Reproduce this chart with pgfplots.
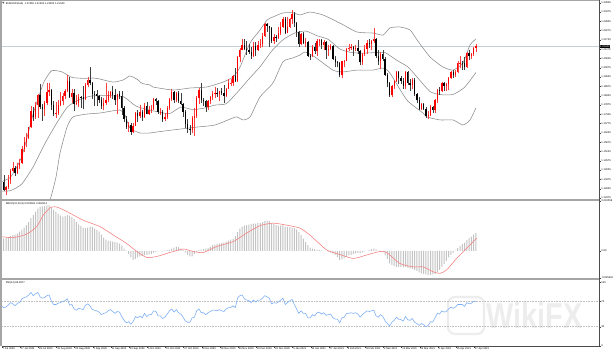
\documentclass[border=0pt]{standalone}
\usepackage{fontspec}
\setmainfont{Liberation Sans}
\usepackage{pgfplots}
\usepackage{pgfplotstable}
\pgfplotsset{compat=1.18}
\definecolor{bandgray}{RGB}{140,140,140}
\definecolor{macdgray}{RGB}{195,195,195}
\definecolor{sigred}{RGB}{245,125,125}
\definecolor{rsiblue}{RGB}{120,172,245}
\definecolor{pricegray}{RGB}{200,206,216}
\definecolor{framegray}{RGB}{165,165,165}
\newcommand{\tf}{\fontsize{2.6bp}{3bp}\selectfont}

\pgfplotstableread{
i o h l c
4 1.1310 1.1330 1.1260 1.1274
5 1.1274 1.1345 1.1262 1.1330
6 1.1330 1.1371 1.1278 1.1287
7 1.1287 1.1308 1.1255 1.1300
8 1.1300 1.1375 1.1290 1.1343
9 1.1343 1.1406 1.1320 1.1399
10 1.1399 1.1452 1.1393 1.1412
11 1.1412 1.1428 1.1370 1.1383
12 1.1383 1.1445 1.1378 1.1427
13 1.1427 1.1468 1.1410 1.1443
14 1.1443 1.1546 1.1440 1.1530
15 1.1530 1.1600 1.1510 1.1570
16 1.1570 1.1623 1.1540 1.1595
17 1.1595 1.1660 1.1586 1.1655
18 1.1655 1.1780 1.1650 1.1754
19 1.1754 1.1776 1.1690 1.1717
20 1.1717 1.1805 1.1705 1.1790
21 1.1790 1.1850 1.1712 1.1845
22 1.1845 1.1909 1.1762 1.1778
23 1.1778 1.1795 1.1695 1.1762
24 1.1762 1.1810 1.1725 1.1800
25 1.1800 1.1917 1.1790 1.1865
26 1.1865 1.1916 1.1840 1.1875
27 1.1875 1.1885 1.1755 1.1787
28 1.1787 1.1810 1.1720 1.1735
29 1.1735 1.1805 1.1711 1.1740
30 1.1740 1.1815 1.1730 1.1785
31 1.1785 1.1865 1.1780 1.1812
32 1.1812 1.1860 1.1785 1.1842
33 1.1842 1.1885 1.1820 1.1870
34 1.1870 1.1966 1.1862 1.1930
35 1.1930 1.1952 1.1830 1.1837
36 1.1837 1.1880 1.1800 1.1860
37 1.1860 1.1882 1.1753 1.1795
38 1.1795 1.1845 1.1785 1.1798
39 1.1798 1.1850 1.1778 1.1834
40 1.1834 1.1840 1.1772 1.1832
41 1.1832 1.1900 1.1762 1.1820
42 1.1820 1.1915 1.1815 1.1905
43 1.1905 1.1955 1.1893 1.1935
44 1.1935 1.2011 1.1903 1.1915
45 1.1915 1.1925 1.1820 1.1855
46 1.1855 1.1870 1.1780 1.1850
47 1.1850 1.1875 1.1780 1.1838
48 1.1838 1.1848 1.1802 1.1815
49 1.1815 1.1835 1.1765 1.1780
50 1.1780 1.1830 1.1755 1.1800
51 1.1800 1.1917 1.1788 1.1815
52 1.1815 1.1872 1.1808 1.1845
53 1.1845 1.1870 1.1831 1.1865
54 1.1865 1.1900 1.1822 1.1845
55 1.1845 1.1883 1.1790 1.1815
56 1.1815 1.1852 1.1737 1.1850
57 1.1850 1.1872 1.1822 1.1840
58 1.1840 1.1870 1.1728 1.1770
59 1.1770 1.1780 1.1685 1.1705
60 1.1705 1.1720 1.1645 1.1660
61 1.1660 1.1687 1.1627 1.1670
62 1.1670 1.1680 1.1612 1.1630
63 1.1630 1.1683 1.1622 1.1665
64 1.1665 1.1745 1.1661 1.1740
65 1.1740 1.1755 1.1685 1.1720
66 1.1720 1.1790 1.1713 1.1745
67 1.1745 1.1760 1.1695 1.1715
68 1.1715 1.1800 1.1710 1.1780
69 1.1780 1.1808 1.1732 1.1735
70 1.1735 1.1780 1.1730 1.1760
71 1.1760 1.1790 1.1738 1.1762
72 1.1762 1.1831 1.1755 1.1825
73 1.1825 1.1830 1.1790 1.1812
74 1.1812 1.1818 1.1735 1.1745
75 1.1745 1.1770 1.1728 1.1748
76 1.1748 1.1760 1.1688 1.1705
77 1.1705 1.1740 1.1690 1.1718
78 1.1718 1.1780 1.1705 1.1768
79 1.1768 1.1830 1.1760 1.1820
80 1.1820 1.1880 1.1810 1.1862
81 1.1862 1.1870 1.1800 1.1815
82 1.1815 1.1866 1.1803 1.1860
83 1.1860 1.1870 1.1800 1.1812
84 1.1812 1.1860 1.1785 1.1795
85 1.1795 1.1800 1.1718 1.1745
86 1.1745 1.1760 1.1650 1.1675
87 1.1675 1.1705 1.1622 1.1646
88 1.1646 1.1670 1.1612 1.1640
89 1.1640 1.1720 1.1620 1.1710
90 1.1710 1.1770 1.1603 1.1720
91 1.1720 1.1838 1.1710 1.1830
92 1.1830 1.1890 1.1795 1.1875
93 1.1875 1.1920 1.1800 1.1815
94 1.1815 1.1830 1.1780 1.1812
95 1.1812 1.1815 1.1745 1.1777
96 1.1777 1.1815 1.1758 1.1810
97 1.1810 1.1840 1.1793 1.1833
98 1.1833 1.1870 1.1815 1.1855
99 1.1855 1.1893 1.1830 1.1858
100 1.1858 1.1890 1.1835 1.1850
101 1.1850 1.1873 1.1812 1.1870
102 1.1870 1.1890 1.1846 1.1857
103 1.1857 1.1905 1.1800 1.1840
104 1.1840 1.1890 1.1836 1.1885
105 1.1885 1.1940 1.1880 1.1915
106 1.1915 1.1940 1.1897 1.1918
107 1.1918 1.1965 1.1900 1.1960
108 1.1960 1.2004 1.1923 1.1928
109 1.1928 1.2077 1.1925 1.2070
110 1.2070 1.2125 1.2040 1.2115
111 1.2115 1.2176 1.2110 1.2145
112 1.2145 1.2178 1.2110 1.2120
113 1.2120 1.2168 1.2085 1.2110
114 1.2110 1.2150 1.2090 1.2100
115 1.2100 1.2130 1.2058 1.2080
116 1.2080 1.2162 1.2070 1.2135
117 1.2135 1.2160 1.2080 1.2110
118 1.2110 1.2163 1.2105 1.2145
119 1.2145 1.2175 1.2125 1.2150
120 1.2150 1.2212 1.2130 1.2195
121 1.2195 1.2273 1.2192 1.2265
122 1.2265 1.2270 1.2220 1.2255
123 1.2255 1.2257 1.2130 1.2240
124 1.2240 1.2250 1.2157 1.2165
125 1.2165 1.2210 1.2150 1.2190
126 1.2190 1.2200 1.2160 1.2185
127 1.2185 1.2250 1.2180 1.2215
128 1.2215 1.2276 1.2200 1.2250
129 1.2250 1.2310 1.2240 1.2295
130 1.2295 1.2310 1.2210 1.2215
131 1.2215 1.2310 1.2212 1.2250
132 1.2250 1.2300 1.2245 1.2298
133 1.2298 1.2349 1.2265 1.2325
134 1.2325 1.2338 1.2250 1.2270
135 1.2270 1.2280 1.2190 1.2220
136 1.2220 1.2225 1.2132 1.2150
137 1.2150 1.2215 1.2140 1.2207
138 1.2207 1.2222 1.2150 1.2155
139 1.2155 1.2185 1.2130 1.2158
140 1.2158 1.2165 1.2070 1.2080
141 1.2080 1.2090 1.2054 1.2075
142 1.2075 1.2145 1.2070 1.2130
143 1.2130 1.2155 1.2090 1.2105
144 1.2105 1.2175 1.2077 1.2165
145 1.2165 1.2180 1.2135 1.2170
146 1.2170 1.2175 1.2117 1.2140
147 1.2140 1.2170 1.2115 1.2160
148 1.2160 1.2165 1.2060 1.2110
149 1.2110 1.2140 1.2080 1.2120
150 1.2120 1.2150 1.2115 1.2135
151 1.2135 1.2145 1.2055 1.2060
152 1.2060 1.2075 1.2010 1.2040
153 1.2040 1.2045 1.2010 1.2035
154 1.2035 1.2040 1.1952 1.1965
155 1.1965 1.2050 1.1950 1.2045
156 1.2045 1.2055 1.2010 1.2050
157 1.2050 1.2125 1.2045 1.2120
158 1.2120 1.2150 1.2105 1.2122
159 1.2122 1.2150 1.2110 1.2130
160 1.2130 1.2135 1.2080 1.2120
161 1.2120 1.2145 1.2105 1.2125
162 1.2125 1.2170 1.2090 1.2105
163 1.2105 1.2110 1.2022 1.2040
164 1.2040 1.2095 1.2025 1.2090
165 1.2090 1.2145 1.2080 1.2120
166 1.2120 1.2170 1.2090 1.2155
167 1.2155 1.2180 1.2125 1.2150
168 1.2150 1.2170 1.2110 1.2165
169 1.2165 1.2243 1.2155 1.2175
170 1.2175 1.2185 1.2065 1.2075
171 1.2075 1.2115 1.2025 1.2045
172 1.2045 1.2100 1.2000 1.2090
173 1.2090 1.2110 1.2045 1.2060
174 1.2060 1.2070 1.1960 1.1965
175 1.1965 1.1975 1.1893 1.1915
176 1.1915 1.1925 1.1835 1.1845
177 1.1845 1.1907 1.1835 1.1900
178 1.1900 1.1935 1.1880 1.1930
179 1.1930 1.1990 1.1925 1.1985
180 1.1985 1.1990 1.1910 1.1950
181 1.1950 1.1960 1.1910 1.1930
182 1.1930 1.1950 1.1885 1.1900
183 1.1900 1.1990 1.1880 1.1980
184 1.1980 1.1990 1.1905 1.1915
185 1.1915 1.1940 1.1873 1.1905
186 1.1905 1.1945 1.1880 1.1935
187 1.1935 1.1945 1.1840 1.1850
188 1.1850 1.1860 1.1800 1.1815
189 1.1815 1.1835 1.1760 1.1765
190 1.1765 1.1800 1.1760 1.1795
191 1.1795 1.1800 1.1755 1.1765
192 1.1765 1.1775 1.1712 1.1720
193 1.1720 1.1750 1.1704 1.1730
194 1.1730 1.1790 1.1720 1.1775
195 1.1775 1.1782 1.1740 1.1760
196 1.1760 1.1825 1.1740 1.1815
197 1.1815 1.1880 1.1800 1.1875
198 1.1875 1.1895 1.1845 1.1870
199 1.1870 1.1925 1.1865 1.1915
200 1.1915 1.1925 1.1870 1.1900
201 1.1900 1.1920 1.1870 1.1910
202 1.1910 1.1955 1.1875 1.1950
203 1.1950 1.1990 1.1940 1.1980
204 1.1980 1.1995 1.1945 1.1965
205 1.1965 1.1995 1.1955 1.1985
206 1.1985 1.2050 1.1975 1.2035
207 1.2035 1.2080 1.2005 1.2038
208 1.2038 1.2050 1.1995 1.2033
209 1.2033 1.2070 1.1995 1.2015
210 1.2015 1.2100 1.2005 1.2095
211 1.2095 1.2115 1.2055 1.2080
212 1.2080 1.2095 1.2060 1.2090
213 1.2090 1.2130 1.2075 1.2125
214 1.2125 1.2150 1.2100 1.2134
}\ohlc

\pgfplotstableread{
i v
4 1.1330
9 1.1361
14 1.1485
19 1.1737
22.7 1.1888
24 1.1932
27.1 1.1990
31.5 1.1984
36.0 1.1951
41.0 1.1945
45.3 1.1947
48.4 1.1941
54.1 1.1923
58.5 1.1935
61.6 1.1959
64.7 1.1940
67.0 1.1915
70.4 1.1906
71.7 1.1894
80.6 1.1876
88.1 1.1888
95.5 1.1894
102.6 1.1923
107.0 1.1953
110.1 1.2012
114.5 1.2154
118.9 1.2231
122.0 1.2290
124.6 1.2308
129.0 1.2332
133.4 1.2333
136.5 1.2320
140.9 1.2337
146.6 1.2320
154.1 1.2272
161.6 1.2219
168.7 1.2213
173.1 1.2201
176.1 1.2243
180.5 1.2249
185.0 1.2231
188.1 1.2172
193.8 1.2071
199.5 1.2012
203.9 1.1994
208.3 1.2036
211.4 1.2142
214 1.2178
}\bbup

\pgfplotstableread{
i v
4 1.1278
9 1.1281
14 1.1321
19 1.1423
24 1.1556
29 1.1673
34 1.1775
39 1.1817
44 1.1839
49 1.1845
54 1.1842
59 1.1835
64 1.1783
69 1.1761
74 1.1747
79 1.1736
84 1.1775
89 1.1761
94 1.1768
99 1.1787
104 1.1795
109 1.1864
114 1.1941
119 1.2015
124 1.2106
129 1.2173
134 1.2212
139 1.2225
144 1.2197
149 1.2175
154 1.2119
159 1.2098
164 1.2094
169 1.2097
174 1.2097
179 1.2053
184 1.2013
189 1.1938
194 1.1865
199 1.1848
204 1.1850
209 1.1892
214 1.1979
}\bbmid

\pgfplotstableread{
i v
4 1.1219
9 1.1201
14 1.1157
19 1.1109
24 1.1180
26.4 1.1226
29 1.1360
30.8 1.1504
33.9 1.1657
36.5 1.1717
42.7 1.1734
48.4 1.1740
57.2 1.1758
59.4 1.1728
61.6 1.1651
66.0 1.1622
70.4 1.1622
73.5 1.1628
80.6 1.1640
88.1 1.1652
91.1 1.1657
99.0 1.1669
107.0 1.1711
108.8 1.1717
111.4 1.1699
114.5 1.1717
118.9 1.1835
124.6 1.1918
129.0 1.2043
133.4 1.2066
136.5 1.2083
138.7 1.2101
143.1 1.2071
151.0 1.1994
155.4 1.1983
161.6 1.1994
168.7 1.1994
173.1 1.2006
176.1 1.1977
183.6 1.1817
190.7 1.1740
192.4 1.1717
198.2 1.1699
203.9 1.1699
208.3 1.1669
211.4 1.1699
214 1.1770
}\bblow

\pgfplotstableread{
i m
4 0.0024
5 0.0025
6 0.0025
7 0.0026
8 0.0028
9 0.0030
10 0.0032
11 0.0033
12 0.0035
13 0.0039
14 0.0043
15 0.0047
16 0.0052
17 0.0058
18 0.0066
19 0.0072
20 0.0079
21 0.0085
22 0.0089
23 0.0090
24 0.0091
25 0.0092
26 0.0092
27 0.0088
28 0.0083
29 0.0079
30 0.0075
31 0.0071
32 0.0069
33 0.0070
34 0.0072
35 0.0071
36 0.0068
37 0.0064
38 0.0058
39 0.0053
40 0.0050
41 0.0047
42 0.0046
43 0.0047
44 0.0049
45 0.0048
46 0.0045
47 0.0042
48 0.0039
49 0.0033
50 0.0027
51 0.0023
52 0.0021
53 0.0020
54 0.0019
55 0.0018
56 0.0017
57 0.0015
58 0.0011
59 0.0005
60 0.0001
61 -0.0006
62 -0.0013
63 -0.0018
64 -0.0016
65 -0.0013
66 -0.0011
67 -0.0010
68 -0.0009
69 -0.0008
70 -0.0007
71 -0.0006
72 -0.0004
73 -0.0002
74 -0.0001
75 0.0000
76 -0.0001
77 0.0001
78 0.0002
79 0.0003
80 0.0005
81 0.0007
82 0.0009
83 0.0008
84 0.0005
85 0.0002
86 -0.0003
87 -0.0008
88 -0.0011
89 -0.0011
90 -0.0006
91 -0.0002
92 0.0002
93 0.0003
94 0.0004
95 0.0005
96 0.0006
97 0.0009
98 0.0012
99 0.0013
100 0.0014
101 0.0015
102 0.0016
103 0.0017
104 0.0019
105 0.0021
106 0.0023
107 0.0025
108 0.0030
109 0.0038
110 0.0045
111 0.0049
112 0.0051
113 0.0052
114 0.0053
115 0.0054
116 0.0055
117 0.0055
118 0.0056
119 0.0056
120 0.0058
121 0.0060
122 0.0061
123 0.0060
124 0.0056
125 0.0054
126 0.0052
127 0.0051
128 0.0051
129 0.0052
130 0.0049
131 0.0048
132 0.0048
133 0.0047
134 0.0046
135 0.0043
136 0.0038
137 0.0032
138 0.0025
139 0.0018
140 0.0012
141 0.0007
142 0.0005
143 0.0004
144 0.0003
145 0.0002
146 0.0001
147 0.0000
148 0.0000
149 -0.0001
150 -0.0003
151 -0.0005
152 -0.0008
153 -0.0012
154 -0.0018
155 -0.0017
156 -0.0015
157 -0.0012
158 -0.0009
159 -0.0008
160 -0.0006
161 -0.0005
162 -0.0004
163 -0.0005
164 -0.0003
165 -0.0001
166 0.0000
167 0.0002
168 0.0004
169 0.0005
170 0.0003
171 0.0000
172 -0.0001
173 -0.0003
174 -0.0009
175 -0.0016
176 -0.0025
177 -0.0028
178 -0.0030
179 -0.0032
180 -0.0032
181 -0.0032
182 -0.0033
183 -0.0032
184 -0.0034
185 -0.0035
186 -0.0036
187 -0.0038
188 -0.0040
189 -0.0043
190 -0.0045
191 -0.0046
192 -0.0047
193 -0.0048
194 -0.0048
195 -0.0047
196 -0.0046
197 -0.0043
198 -0.0038
199 -0.0032
200 -0.0026
201 -0.0020
202 -0.0013
203 -0.0008
204 -0.0004
205 0.0001
206 0.0006
207 0.0010
208 0.0014
209 0.0017
210 0.0022
211 0.0026
212 0.0029
213 0.0033
214 0.0036
}\macd

\pgfplotstableread{
i s
4.4 0.0029
10.2 0.0027
16.1 0.0034
20.5 0.0049
23.4 0.0072
26.4 0.0087
28.6 0.0089
30.8 0.0086
35.2 0.0076
41.0 0.0062
48.4 0.0049
54.3 0.0032
60.2 0.0015
64.6 -0.0001
69.0 -0.0013
73.4 -0.0011
79.2 -0.0003
85.1 0.0004
89.5 -0.0001
93.9 -0.0003
99.8 0.0009
107.1 0.0019
113.0 0.0036
118.9 0.0051
124.7 0.0056
130.6 0.0052
136.5 0.0046
140.9 0.0032
148.3 0.0002
154.1 -0.0007
160.0 -0.0015
165.9 -0.0008
171.7 -0.0001
174.7 -0.0003
180.5 -0.0025
186.4 -0.0032
190.8 -0.0032
195.2 -0.0042
198.2 -0.0045
201.1 -0.0038
205.5 -0.0015
209.9 0.0005
214.3 0.0026
}\signal

\pgfplotstableread{
i r
4 60
5 63
6 60
7 61
8 64
9 68
10 66
11 63
12 67
13 68
14 74
15 76
16 77
17 80
18 84
19 79
20 82
21 84
22 77
23 75
24 76
25 79
26 80
27 70
28 65
29 65
30 67
31 68
32 70
33 71
34 74
35 64
36 65
37 58
38 56
39 59
40 58
41 57
42 64
43 66
44 63
45 57
46 56
47 55
48 53
49 49
50 51
51 52
52 55
53 57
54 54
55 51
56 54
57 53
58 46
59 40
60 36
61 38
62 34
63 38
64 46
65 44
66 47
67 44
68 51
69 46
70 49
71 49
72 55
73 54
74 47
75 47
76 43
77 45
78 50
79 55
80 58
81 53
82 57
83 52
84 50
85 45
86 39
87 37
88 37
89 44
90 45
91 55
92 58
93 52
94 52
95 49
96 52
97 54
98 56
99 56
100 55
101 57
102 55
103 54
104 58
105 60
106 60
107 63
108 60
109 75
110 79
111 80
112 74
113 72
114 71
115 68
116 72
117 69
118 72
119 72
120 75
121 79
122 77
123 75
124 66
125 68
126 67
127 69
128 72
129 75
130 65
131 68
132 71
133 73
134 65
135 58
136 51
137 55
138 51
139 51
140 44
141 44
142 49
143 47
144 52
145 53
146 50
147 52
148 48
149 49
150 50
151 44
152 42
153 42
154 36
155 44
156 45
157 51
158 51
159 52
160 51
161 52
162 50
163 45
164 49
165 52
166 55
167 54
168 55
169 56
170 47
171 45
172 49
173 46
174 39
175 35
176 31
177 37
178 40
179 45
180 42
181 41
182 39
183 46
184 41
185 40
186 43
187 37
188 35
189 32
190 35
191 33
192 30
193 32
194 38
195 37
196 44
197 51
198 50
199 55
200 53
201 54
202 58
203 61
204 59
205 61
206 65
207 65
208 65
209 62
210 68
211 66
212 67
213 70
214 70
}\rsi

\begin{document}
\begin{tikzpicture}
\path[use as bounding box] (0,0) rectangle (613bp,354bp);
\fill[white] (0,0) rectangle (613bp,354bp);
% watermark
\draw[black!7, line width=2.2bp, rounded corners=7bp] (448bp,20bp) rectangle (484bp,57bp);
\node[text=black!7, font=\fontsize{36bp}{38bp}\selectfont\bfseries, xscale=0.8, anchor=west] at (484bp,39bp) {WikiFX};

\pgfplotsset{
  every axis/.append style={
    scale only axis, width=597bp, xmin=5.233, xmax=268.23,
    scaled x ticks=false, scaled y ticks=false,
    axis line style={draw=none},
    tick style={black!75, line width=0.35bp},
    major tick length=1.8bp, tick align=outside,
    ticklabel style={font=\tf, inner sep=0.4bp},
    ytick pos=right, yticklabel pos=right,
    yticklabel style={anchor=west},
  },
  candle/.style={only marks, mark size=0pt, mark options={draw=none, fill=none},
    error bars/.cd, y dir=plus, y explicit, error mark=none},
}

% ---------- main price panel ----------
\begin{axis}[at={(2bp,353bp)}, anchor=north west, height=198.5bp,
  ymin=1.12286, ymax=1.24025, xtick=\empty,
  ytick={1.23925,1.23375,1.22825,1.22275,1.21725,1.21175,1.20625,1.20075,1.19525,1.18975,1.18425,1.17875,1.17325,1.16775,1.16225,1.15675,1.15125,1.14575,1.14025,1.13475,1.12925,1.12375},
  yticklabels={1.23925,1.23375,1.22825,1.22275,1.21725,1.21175,1.20625,1.20075,1.19525,1.18975,1.18425,1.17875,1.17325,1.16775,1.16225,1.15675,1.15125,1.14575,1.14025,1.13475,1.12925,1.12375}]
\addplot[pricegray, line width=0.5bp] coordinates {(5.233,1.2134) (268.23,1.2134)};
\addplot[bandgray, line width=0.55bp, smooth, tension=0.35] table[x=i,y=v] {\bbup};
\addplot[bandgray, line width=0.55bp, smooth, tension=0.35] table[x=i,y=v] {\bbmid};
\addplot[bandgray, line width=0.55bp, smooth, tension=0.35] table[x=i,y=v] {\bblow};
% bull wicks and bodies
\addplot[red!75, restrict expr to domain={\thisrow{c}-\thisrow{o}}{0:1},
  candle, error bar style={line width=0.45bp}]
  table[x=i, y=l, y error expr=\thisrow{h}-\thisrow{l}] {\ohlc};
\addplot[red, restrict expr to domain={\thisrow{c}-\thisrow{o}}{0:1},
  candle, error bar style={line width=1.3bp}]
  table[x=i, y=o, y error expr=\thisrow{c}-\thisrow{o}] {\ohlc};
% bear wicks and bodies
\addplot[black!75, restrict expr to domain={\thisrow{c}-\thisrow{o}}{-1:-0.00000001},
  candle, error bar style={line width=0.45bp}]
  table[x=i, y=l, y error expr=\thisrow{h}-\thisrow{l}] {\ohlc};
\addplot[black, restrict expr to domain={\thisrow{c}-\thisrow{o}}{-1:-0.00000001},
  candle, error bar style={line width=1.3bp}]
  table[x=i, y=c, y error expr=\thisrow{o}-\thisrow{c}] {\ohlc};
\node[anchor=west, font=\tf, inner sep=0pt] at (rel axis cs:0.006,0.985) {EURUSD,Daily\ \ 1.21250 1.21500 1.21000 1.21340};
\end{axis}

% ---------- MACD panel ----------
\begin{axis}[at={(2bp,153bp)}, anchor=north west, height=77bp,
  ymin=-0.005432, ymax=0.010058, xtick=\empty,
  ytick={0.010058,0,-0.005432}, yticklabels={0.010058,0.00,-0.005432}]
\addplot[ybar, bar width=1.0bp, bar shift=0pt, fill=macdgray, draw=none] table[x=i,y=m] {\macd};
\addplot[sigred, line width=0.55bp, smooth, tension=0.4] table[x=i,y=s] {\signal};
\node[anchor=west, font=\tf, inner sep=0pt] at (rel axis cs:0.006,0.96) {MACD(12,26,9) 0.003601 0.002614};
\end{axis}

% ---------- RSI panel ----------
\begin{axis}[at={(2bp,73.7bp)}, anchor=north west, height=65.7bp,
  ymin=-0.47, ymax=103.2,
  ytick={0,30,70,100}, yticklabels={0,30,70,100},
  xtick pos=bottom,
  xtick={5.233,13.233,21.233,29.233,37.233,45.233,53.233,61.233,69.233,77.233,85.233,93.233,101.233,109.233,117.233,125.233,133.233,141.233,149.233,157.233,165.233,173.233,181.233,189.233,197.233,205.233,213.233},
  xticklabels={7 Jul 2020,17 Jul 2020,29 Jul 2020,10 Aug 2020,20 Aug 2020,1 Sep 2020,11 Sep 2020,23 Sep 2020,5 Oct 2020,15 Oct 2020,27 Oct 2020,6 Nov 2020,18 Nov 2020,30 Nov 2020,10 Dec 2020,22 Dec 2020,5 Jan 2021,15 Jan 2021,27 Jan 2021,8 Feb 2021,18 Feb 2021,2 Mar 2021,12 Mar 2021,24 Mar 2021,5 Apr 2021,15 Apr 2021,27 Apr 2021},
  xticklabel style={anchor=north west, inner xsep=0.6bp, yshift=0.3bp}]
\addplot[black!25, line width=0.4bp, dash pattern=on 0.8bp off 0.8bp] coordinates {(5.233,70) (268.23,70)};
\addplot[black!25, line width=0.4bp, dash pattern=on 0.8bp off 0.8bp] coordinates {(5.233,30) (268.23,30)};
\addplot[rsiblue, line width=0.55bp] table[x=i,y=r] {\rsi};
\node[anchor=west, font=\tf, inner sep=0pt] at (rel axis cs:0.006,0.955) {RSI(14) 69.8277};
\end{axis}

% ---------- frames ----------
\draw[framegray, line width=2bp] (1bp,354bp) -- (1bp,7.7bp);
\draw[framegray, line width=1.1bp] (0bp,353.5bp) -- (599.3bp,353.5bp);
\draw[framegray, line width=1.7bp] (0bp,154bp) -- (599.3bp,154bp);
\draw[framegray, line width=1.7bp] (0bp,74.8bp) -- (599.3bp,74.8bp);
\draw[black!70, line width=0.5bp] (2bp,7.8bp) -- (599.3bp,7.8bp);
\draw[black!70, line width=0.5bp] (599.3bp,354bp) -- (599.3bp,7.8bp);
\fill[black!70] (2.2bp,352bp) -- (4.4bp,352bp) -- (3.3bp,350.3bp) -- cycle;
% current price tag
\node[fill=black, text=white, font=\tf, inner xsep=0.6bp, inner ysep=0.5bp, anchor=west] at (599.3bp,307.6bp) {1.21340};
\end{tikzpicture}
\end{document}
